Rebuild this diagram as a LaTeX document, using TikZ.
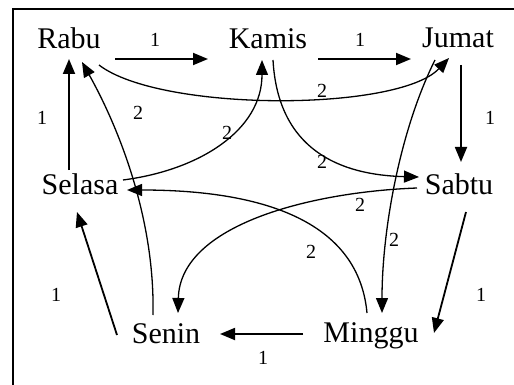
\documentclass[tikz,border=0pt]{standalone}
\usepackage{fontspec}
\setmainfont{Liberation Serif}
\usetikzlibrary{arrows.meta}
\begin{document}
\begin{tikzpicture}[x=1pt,y=-1pt,
  day/.style={anchor=base, inner sep=0pt, font=\fontsize{30}{36}\selectfont},
  wt/.style={inner sep=0pt, font=\fontsize{20}{24}\selectfont},
  one/.style={line width=1.8pt, -{Triangle[length=15pt,width=12pt]}},
  two/.style={line width=1.3pt, -{Triangle[length=15pt,width=12pt]}},
  frame/.style={line width=1.5pt}]
\useasboundingbox (0,0) rectangle (514,385);
\draw[frame] (514,9) -- (13,9) -- (13,385);

\node[day] (rabu)   at (69,49)   {Rabu};
\node[day] (kamis)  at (268,49)  {Kamis};
\node[day] (jumat)  at (458,48)  {Jumat};
\node[day] (selasa) at (80,194)  {Selasa};
\node[day] (sabtu)  at (459,194) {Sabtu};
\node[day] (senin)  at (166,343) {Senin};
\node[day] (minggu) at (371,342) {Minggu};

% weight 1
\draw[one] ([shift={(46,10)}]rabu.base) -- ([shift={(-60,10)}]kamis.base);
\draw[one] ([shift={(50,10)}]kamis.base) -- ([shift={(-47,11)}]jumat.base);
\draw[one] ([shift={(3,17)}]jumat.base) -- ([shift={(2,-32)}]sabtu.base);
\draw[one] ([shift={(7,18)}]sabtu.base) -- ([shift={(63,-9)}]minggu.base);
\draw[one] ([shift={(-68,-8)}]minggu.base) -- ([shift={(54,-9)}]senin.base);
\draw[one] ([shift={(-49,-8)}]senin.base) -- ([shift={(-3,18)}]selasa.base);
\draw[one] ([shift={(-11,-24)}]selasa.base) -- ([shift={(0,10)}]rabu.base);

% weight 2
\draw[two] ([shift={(30,16)}]rabu.base) .. controls (160,112) and (398,112) .. ([shift={(-9,10)}]jumat.base);
\draw[two] ([shift={(5,11)}]kamis.base) .. controls (278,150) and (340,175) .. ([shift={(-40,-17)}]sabtu.base);
\draw[two] ([shift={(43,-14)}]selasa.base) .. controls (200,170) and (262,130) .. ([shift={(-6,11)}]kamis.base);
\draw[two] ([shift={(-13,-28)}]senin.base) .. controls (155,220) and (120,130) .. ([shift={(13,13)}]rabu.base);
\draw[two] ([shift={(-42,-6)}]sabtu.base) .. controls (310,192) and (180,225) .. ([shift={(12,-30)}]senin.base);
\draw[two] ([shift={(-4,-29)}]minggu.base) .. controls (358,215) and (250,190) .. ([shift={(47,-4)}]selasa.base);
\draw[two] ([shift={(-23,12)}]jumat.base) .. controls (400,130) and (382,230) .. ([shift={(11,-29)}]minggu.base);

% labels
\node[wt] (l1) at (155,40) {1};
\node[wt] (l2) at (360,40) {1};
\node[wt] (l3) at (490,118) {1};
\node[wt] (l4) at (481,295) {1};
\node[wt] (l5) at (263,358) {1};
\node[wt] (l6) at (56,295) {1};
\node[wt] (l7) at (42,118) {1};
\node[wt] (m1) at (322,91) {2};
\node[wt] (m2) at (322,162) {2};
\node[wt] (m3) at (227,133) {2};
\node[wt] (m4) at (138,113) {2};
\node[wt] (m5) at (360,205) {2};
\node[wt] (m6) at (311,252) {2};
\node[wt] (m7) at (394,240) {2};
\end{tikzpicture}
\end{document}
